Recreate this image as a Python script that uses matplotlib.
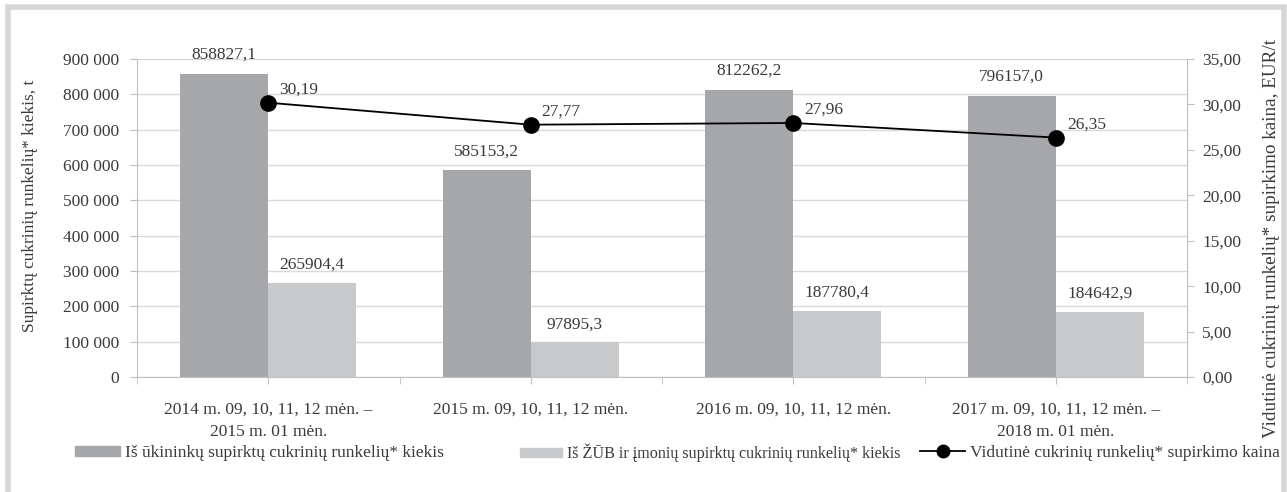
import matplotlib
matplotlib.use("Agg")
import matplotlib.pyplot as plt
import numpy as np
from matplotlib.patches import Rectangle
from matplotlib.lines import Line2D

categories = ["2014 m. 09, 10, 11, 12 mėn. –\n2015 m. 01 mėn.",
              "2015 m. 09, 10, 11, 12 mėn.",
              "2016 m. 09, 10, 11, 12 mėn.",
              "2017 m. 09, 10, 11, 12 mėn. –\n2018 m. 01 mėn."]
farmers = [858827.1, 585153.2, 812262.2, 796157.0]
companies = [265904.4, 97895.3, 187780.4, 184642.9]
price = [30.19, 27.77, 27.96, 26.35]

farmers_lbl = ["858827,1", "585153,2", "812262,2", "796157,0"]
companies_lbl = ["265904,4", "97895,3", "187780,4", "184642,9"]
price_lbl = ["30,19", "27,77", "27,96", "26,35"]

left_ticks = list(range(0, 900001, 100000))
left_tick_lbl = ["0"] + [f"{v//1000} 000" for v in left_ticks[1:]]
right_ticks = list(range(0, 36, 5))
right_tick_lbl = [f"{v},00" for v in right_ticks]

leg_labels = ["Iš ūkininkų supirktų cukrinių runkelių* kiekis",
              "Iš ŽŪB ir įmonių supirktų cukrinių runkelių* kiekis",
              "Vidutinė cukrinių runkelių* supirkimo kaina"]
ylabel_left = "Supirktų cukrinių runkelių* kiekis, t"
ylabel_right = "Vidutinė cukrinių runkelių* supirkimo kaina, EUR/t"

plt.rcParams['font.family'] = ['Liberation Serif', 'DejaVu Serif']
FS = 12.5
TXT = '#3a3a3a'
GRID = '#d9d9d9'
DARK = '#a6a7ab'
LIGHT = '#c8c9cb'

W, H = 1287, 492
fig = plt.figure(figsize=(W/100, H/100), dpi=100)
fig.patch.set_facecolor('white')

# frame
fig.add_artist(Rectangle((7.5/W, -0.1), (1284-7.5)/W, 1.1 - 7/H,
                         transform=fig.transFigure, fill=False,
                         edgecolor='#d6d6d6', linewidth=4))

ax = fig.add_axes([137/W, 1-377/H, (1187-137)/W, (377-59)/H])
x = np.arange(len(categories))
w = 0.335
ax.bar(x - w/2, farmers, w, color=DARK, zorder=2)
ax.bar(x + w/2, companies, w, color=LIGHT, zorder=2)
ax.set_xlim(-0.5, 3.5)
ax.set_ylim(0, 900000)
ax.set_yticks(left_ticks)
ax.set_yticklabels(left_tick_lbl, fontsize=FS, color=TXT)
ax.set_xticks(x)
ax.set_xticklabels(categories, fontsize=FS, color=TXT, linespacing=1.5)
ax.set_xticks(np.arange(-0.5, 3.6, 1.0), minor=True)
ax.tick_params(axis='x', which='both', length=5, color='#bfbfbf', pad=13)
ax.tick_params(axis='y', length=5, color='#bfbfbf', pad=8)
ax.grid(axis='y', color=GRID, linewidth=1, zorder=0)
for s in ['top', 'right']:
    ax.spines[s].set_visible(False)
for s in ['left', 'bottom']:
    ax.spines[s].set_color('#bfbfbf')

for xi, v, l in zip(x, farmers, farmers_lbl):
    ax.annotate(l, (xi - w/2, v), xytext=(0, 11), textcoords='offset pixels',
                ha='center', va='bottom', fontsize=FS, color=TXT)
for xi, v, l in zip(x, companies, companies_lbl):
    ax.annotate(l, (xi + w/2, v), xytext=(0, 10), textcoords='offset pixels',
                ha='center', va='bottom', fontsize=FS, color=TXT)

ax2 = ax.twinx()
ax2.set_ylim(0, 35)
ax2.set_yticks(right_ticks)
ax2.set_yticklabels(right_tick_lbl, fontsize=FS, color=TXT)
ax2.tick_params(axis='y', length=5, color='#bfbfbf', pad=6)
for s in ['top', 'left', 'bottom']:
    ax2.spines[s].set_visible(False)
ax2.spines['right'].set_color('#bfbfbf')
ax2.plot(x, price, color='black', linewidth=1.3, marker='o', markersize=11, zorder=3)
for xi, v, l in zip(x, price, price_lbl):
    ax2.annotate(l, (xi, v), xytext=(11, 5), textcoords='offset pixels',
                 ha='left', va='bottom', fontsize=FS, color=TXT)

# axis titles
fig.text(30/W, 1-206/H, ylabel_left, rotation=90, ha='center', va='center',
         fontsize=FS, color=TXT)
fig.text(1272/W, 1-238/H, ylabel_right, rotation=90, ha='center', va='center',
         fontsize=13.8, color=TXT)

# legend: three entries placed like the reference
handles = [Rectangle((0, 0), 1, 1, color=DARK), Rectangle((0, 0), 1, 1, color=LIGHT),
           Line2D([], [], color='black', linewidth=1.3, marker='o', markersize=9)]
leg_x = [75, 520, 920]
leg_fs = [12.5, 11.6, 12.5]
for h, lab, lx, lfs in zip(handles, leg_labels, leg_x, leg_fs):
    lg = fig.legend([h], [lab], loc='center left', bbox_to_anchor=(lx/W, 1-453/H),
                    frameon=False, fontsize=lfs, handlelength=2.6, handleheight=0.5,
                    handletextpad=0.3, borderpad=0, borderaxespad=0)
    for t in lg.get_texts():
        t.set_color(TXT)

fig.savefig('out.png', dpi=100)
